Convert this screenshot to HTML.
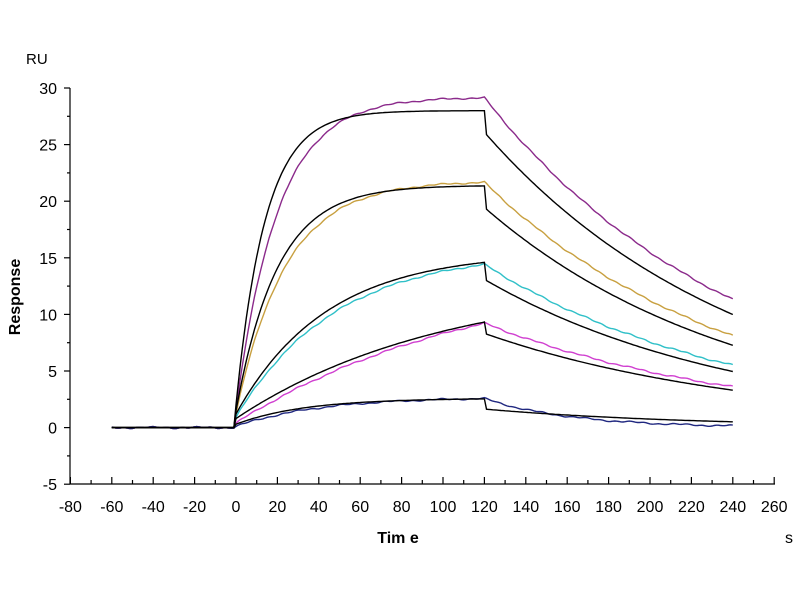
<!DOCTYPE html><html><head><style>body{margin:0;background:#fff}svg{display:block}text{font-family:"Liberation Sans",Arial,sans-serif}</style></head><body>
<svg id="s" width="800" height="600" xmlns="http://www.w3.org/2000/svg">
<g stroke="#000" stroke-width="1.2" fill="none" id="ax"></g>
<g font-size="16" fill="#000" id="lb"></g>
<text x="26" y="64" font-size="15">RU</text>
<text x="20" y="297" font-size="16" font-weight="bold" text-anchor="middle" transform="rotate(-90 20 297)">Response</text>
<text x="398" y="543" font-size="16" font-weight="bold" text-anchor="middle">Tim e</text>
<text x="785" y="543" font-size="16">s</text>
<g id="cv" fill="none" stroke-width="1.4"></g>
</svg>
<script>
var X=t=>236+2.07*t,Y=v=>427.6-11.32*v;
var ax=document.getElementById('ax'),lb=document.getElementById('lb'),cv=document.getElementById('cv');
var h='<line x1="70" y1="88" x2="70" y2="484"/><line x1="70" y1="484" x2="775" y2="484"/>';
var l='';
for(var v=-5;v<=30;v+=2.5){var y=Y(v);h+='<line x1="'+(v%5==0?64:67)+'" y1="'+y+'" x2="70" y2="'+y+'"/>';if(v%5==0)l+='<text x="57" y="'+(y+6)+'" text-anchor="end">'+v+'</text>';}
for(var t=-80;t<=260;t+=10){var x=X(t);h+='<line x1="'+x+'" y1="484" x2="'+x+'" y2="'+(t%20==0?477:480)+'"/>';if(t%20==0)l+='<text x="'+x+'" y="512" text-anchor="middle">'+t+'</text>';}
ax.innerHTML=h;lb.innerHTML=l;
function path(f,col,noise){var d='';for(var t=-60;t<=240;t+=1){var v=f(t)+(noise?(Math.sin(t*0.9)*0.04+Math.sin(t*0.27)*0.05):0);d+=(d?'L':'M')+X(t).toFixed(1)+' '+Y(v).toFixed(1);}return '<path d="'+d+'" stroke="'+col+'"/>';}
function fit(R,k,j0,drop,kd){return t=>{if(t<0)return 0;if(t<=120)return j0+(R-j0)*(1-Math.exp(-k*t));var r=j0+(R-j0)*(1-Math.exp(-k*120));return (r-drop)*Math.exp(-kd*(t-120));};}
function dat(R,k,j0,end){return t=>{if(t<0)return 0;var a=j0+(R-j0)*(1-Math.exp(-k*Math.min(t,120)));if(t<=120)return a;var kk=Math.log(a/end)/120;return a*Math.exp(-kk*(t-120));};}
var s='';
s+=path(dat(29.2,0.05,1.5,11.3),'#8b2a8b',1);
s+=path(dat(21.8,0.042,1.2,8.1),'#c8a040',1);
s+=path(dat(15.6,0.021,0.9,5.5),'#30c0c8',1);
s+=path(dat(14.2,0.0085,0.4,3.6),'#d040d0',1);
s+=path(dat(2.7,0.025,0.1,0.15),'#202880',1);
s+=path(fit(28,0.07,2,1.9,0.008),'#000');
s+=path(fit(21.4,0.05,1.5,1.9,0.0082),'#000');
s+=path(fit(15.5,0.023,1.2,1.5,0.0081),'#000');
s+=path(fit(13,0.01,0.8,1.0,0.0077),'#000');
s+=path(fit(2.6,0.03,0.3,0.9,0.0097),'#000');
cv.innerHTML=s;
</script></body></html>
